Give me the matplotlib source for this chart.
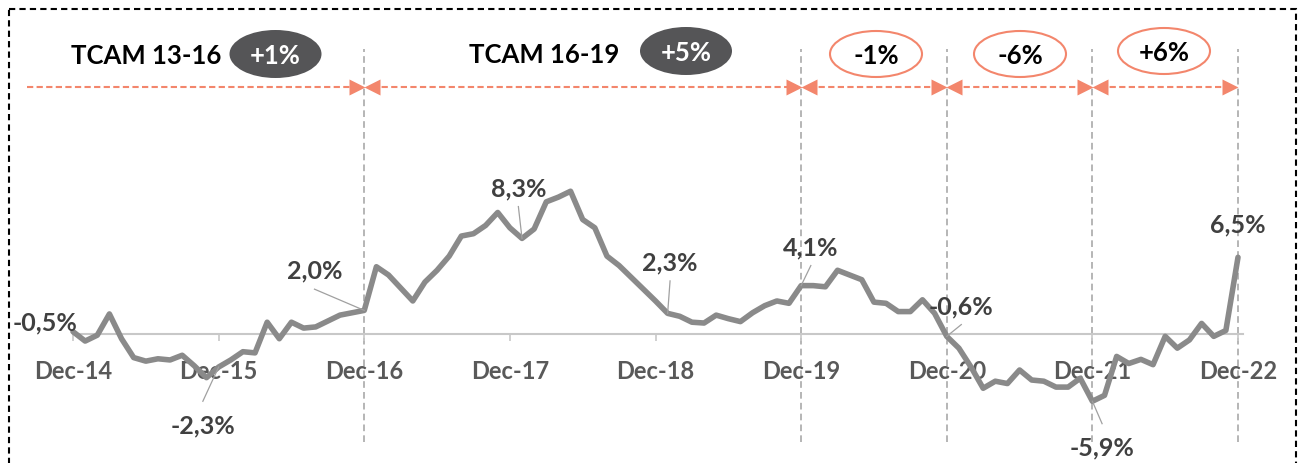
import matplotlib
matplotlib.use('Agg')
import matplotlib.pyplot as plt
from matplotlib.patches import Ellipse, Rectangle
from matplotlib.transforms import blended_transform_factory

# monthly series, Dec-14 .. Dec-22 (values in %)
values = [
    0.2, -0.6, -0.1, 1.7, -0.4, -2.0, -2.3, -2.1, -2.2, -1.8, -2.7, -3.7,   # Dec-14 .. Nov-15
    -2.8, -2.2, -1.5, -1.6, 1.0, -0.4, 1.0, 0.5, 0.6, 1.1, 1.6, 1.8,        # Dec-15 .. Nov-16
    2.0, 5.7, 5.0, 3.9, 2.8, 4.4, 5.4, 6.6, 8.3, 8.5, 9.2, 10.3,            # Dec-16 .. Nov-17
    9.0, 8.1, 8.9, 11.2, 11.6, 12.1, 9.7, 9.0, 6.6, 5.8, 4.8, 3.8,          # Dec-17 .. Nov-18
    2.8, 1.75, 1.5, 1.0, 0.93, 1.6, 1.3, 1.05, 1.8, 2.4, 2.8, 2.6,          # Dec-18 .. Nov-19
    4.1, 4.1, 4.0, 5.4, 5.0, 4.6, 2.7, 2.6, 1.9, 1.9, 2.9, 1.75,            # Dec-19 .. Nov-20
    -0.2, -1.2, -2.8, -4.6, -4.0, -4.2, -3.05, -3.9, -4.0, -4.5, -4.5, -3.75,  # Dec-20 .. Nov-21
    -5.7, -5.2, -1.9, -2.5, -2.15, -2.6, -0.2, -1.2, -0.5, 0.9, -0.2, 0.3,  # Dec-21 .. Nov-22
    6.5,                                                                     # Dec-22
]
tick_labels = ['Dec-14', 'Dec-15', 'Dec-16', 'Dec-17', 'Dec-18', 'Dec-19', 'Dec-20', 'Dec-21', 'Dec-22']
tick_pos = [12 * i for i in range(len(tick_labels))]

# point labels: (month index, text, label x, label y, draw leader)
point_labels = [
    (0, '-0,5%', -2.3, 1.0, False),
    (12, '-2,3%', 10.7, -7.7, True),
    (24, '2,0%', 19.9, 5.4, True),
    (37, '8,3%', 36.7, 12.4, True),
    (49, '2,3%', 49.2, 6.1, True),
    (60, '4,1%', 60.8, 7.4, True),
    (72, '-0,6%', 73.2, 2.4, True),
    (84, '-5,9%', 84.8, -9.6, True),
    (96, '6,5%', 96.0, 9.3, False),
]

# period headers
periods = [0, 24, 60, 72, 84, 96]
headers = ['TCAM 13-16', 'TCAM 16-19']
rates = ['+1%', '+5%', '-1%', '-6%', '+6%']

months = list(range(len(values)))

plt.rcParams['font.family'] = ['Lato', 'DejaVu Sans']
plt.rcParams['font.weight'] = 'bold'

W, H = 1305, 464
fig = plt.figure(figsize=(W / 100, H / 100), dpi=100)
ax = fig.add_axes([0, 0, 1, 1])

px_m = 1165 / 96.0
px_v = 11.8
ax.set_xlim(-73 / px_m, 96 + (W - 1238) / px_m)
ax.set_ylim(-(H - 335) / px_v, 335 / px_v)

salmon = '#F3866C'
grey_line = '#8a8a8a'

# vertical dashed separators
for p in periods[1:]:
    ax.axvline(p, ymin=1 - 443 / H, ymax=1 - 50 / H, color='#a9a9a9', lw=1.2,
               linestyle=(0, (4, 2.5)), zorder=1)

# the series
ax.plot(months, values, color=grey_line, lw=4, solid_joinstyle='round',
        solid_capstyle='round', zorder=3)

# axis at zero
for s in ['top', 'right', 'left']:
    ax.spines[s].set_visible(False)
ax.spines['bottom'].set_position(('data', 0))
ax.spines['bottom'].set_bounds(0, 96.4)
ax.spines['bottom'].set_color('#c8c8c8')
ax.spines['bottom'].set_linewidth(1.5)
ax.spines['bottom'].set_zorder(2)
ax.set_yticks([])
ax.set_xticks(tick_pos)
ax.set_xticklabels(tick_labels)
ax.tick_params(axis='x', length=5, width=1.2, color='#c8c8c8', pad=13,
               labelsize=17, labelcolor='#595959')
for t in ax.get_xticklabels():
    t.set_fontweight('bold')

# point labels with leader lines
for m, txt, lx, ly, lead in point_labels:
    ax.text(lx, ly, txt, ha='center', va='center', fontsize=18,
            fontweight='bold', color='#404040', zorder=5)
    if lead:
        dy = -1.6 if ly > values[m] else 2.0
        ax.plot([lx, m], [ly + dy, values[m]], color='#a0a0a0', lw=0.9, zorder=4)

# arrows between periods
trans = blended_transform_factory(ax.transData, ax.transAxes)
ay = 1 - 88 / H
head = 0.62
segs = [(-3.8, periods[1], False)] + [(periods[i], periods[i + 1], True) for i in range(1, len(periods) - 1)]
for a, b, left_head in segs:
    x0 = a + head if left_head else a
    ax.plot([x0, b - head], [ay, ay], transform=trans, color=salmon, lw=1.5,
            linestyle=(0, (3, 1.6)), zorder=4, clip_on=False)
    ax.plot([b - head], [ay], marker='>', markersize=11, color=salmon, mec='none',
            transform=trans, zorder=4, clip_on=False)
    if left_head:
        ax.plot([a + head], [ay], marker='<', markersize=11, color=salmon, mec='none',
                transform=trans, zorder=4, clip_on=False)

# header overlay in pixel coordinates
top = fig.add_axes([0, 0, 1, 1], facecolor='none')
top.set_xlim(0, W)
top.set_ylim(H, 0)
top.axis('off')

header_pos = [(146, 56), (544, 55)]
for (hx, hy), txt in zip(header_pos, headers):
    top.text(hx, hy, txt, ha='center', va='center', fontsize=18.5,
             fontweight='bold', color='black')

rate_pos = [(275.5, 55), (686, 52), (876, 55), (1020, 55), (1164, 52)]
for i, ((cx, cy), txt) in enumerate(zip(rate_pos, rates)):
    if i < 2:
        top.add_patch(Ellipse((cx, cy), 92, 48, facecolor='#555557', edgecolor='none'))
        col = 'white'
    else:
        top.add_patch(Ellipse((cx, cy), 92, 46, facecolor='white', edgecolor=salmon, lw=1.5))
        col = 'black'
    top.text(cx, cy + 1, txt, ha='center', va='center', fontsize=18.5,
             fontweight='bold', color=col)

# dashed frame (bottom edge outside the picture)
top.add_patch(Rectangle((9, 10), 1287, 480, fill=False, edgecolor='black', lw=1.5,
                        linestyle=(0, (3, 2))))

fig.savefig('out.png', dpi=100)
